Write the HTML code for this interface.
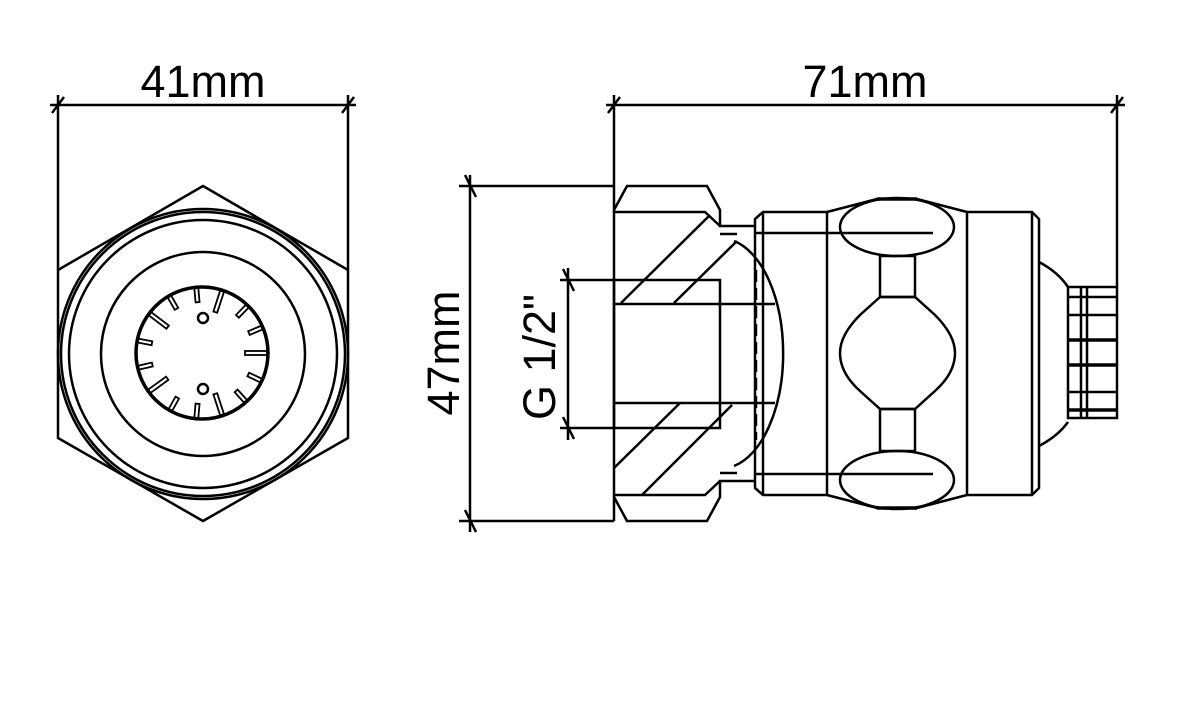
<!DOCTYPE html>
<html><head><meta charset="utf-8"><style>
html,body{margin:0;padding:0;background:#fff}
svg{display:block}
text{font-family:"Liberation Sans",sans-serif;fill:#000}
</style></head><body>
<svg width="1181" height="708" viewBox="0 0 1181 708" xmlns="http://www.w3.org/2000/svg">
<g fill="none" stroke="#000" stroke-width="2.5">
<!-- LEFT VIEW -->
<line x1="58" y1="95" x2="58" y2="270"/>
<line x1="348" y1="95" x2="348" y2="270"/>
<line x1="50" y1="105" x2="356" y2="105"/>
<line x1="52" y1="113" x2="64" y2="97"/>
<line x1="342" y1="113" x2="354" y2="97"/>
<polygon points="203,186 348,270 348,438 203,521 58,438 58,270"/>
<circle cx="203" cy="354" r="145"/>
<circle cx="203" cy="354" r="142"/>
<circle cx="203" cy="354" r="134"/>
<circle cx="203" cy="354" r="102"/>
<circle cx="202" cy="353" r="66" stroke-width="3.5"/>
<circle cx="203" cy="318" r="5"/>
<circle cx="203" cy="389" r="5"/>
<g stroke-width="1.8">
<rect x="253" y="351" width="14" height="4" transform="rotate(-95 202 353)"/>
<rect x="245" y="351" width="22" height="4" transform="rotate(-72 202 353)"/>
<rect x="253" y="351" width="14" height="4" transform="rotate(-46 202 353)"/>
<rect x="253" y="351" width="14" height="4" transform="rotate(-23 202 353)"/>
<rect x="245" y="351" width="22" height="4" transform="rotate(0 202 353)"/>
<rect x="253" y="351" width="14" height="4" transform="rotate(25 202 353)"/>
<rect x="253" y="351" width="14" height="4" transform="rotate(48 202 353)"/>
<rect x="245" y="351" width="22" height="4" transform="rotate(72 202 353)"/>
<rect x="253" y="351" width="14" height="4" transform="rotate(95 202 353)"/>
<rect x="253" y="351" width="14" height="4" transform="rotate(119 202 353)"/>
<rect x="245" y="351" width="22" height="4" transform="rotate(144 202 353)"/>
<rect x="253" y="351" width="14" height="4" transform="rotate(167 202 353)"/>
<rect x="253" y="351" width="14" height="4" transform="rotate(-169 202 353)"/>
<rect x="245" y="351" width="22" height="4" transform="rotate(-143 202 353)"/>
<rect x="253" y="351" width="14" height="4" transform="rotate(-120 202 353)"/>
</g>

<!-- RIGHT VIEW dims -->
<line x1="614" y1="95" x2="614" y2="521"/>
<line x1="1117" y1="95" x2="1117" y2="287"/>
<line x1="606" y1="105" x2="1125" y2="105"/>
<line x1="608" y1="113" x2="620" y2="97"/>
<line x1="1111" y1="113" x2="1123" y2="97"/>
<line x1="459" y1="186" x2="614" y2="186"/>
<line x1="459" y1="521" x2="614" y2="521"/>
<line x1="470" y1="175" x2="470" y2="532"/>
<line x1="465" y1="175" x2="476" y2="197"/>
<line x1="465" y1="510" x2="476" y2="532"/>
<line x1="560" y1="280" x2="614" y2="280"/>
<line x1="560" y1="428" x2="614" y2="428"/>
<line x1="568" y1="268" x2="568" y2="440"/>
<line x1="563" y1="269" x2="574" y2="291"/>
<line x1="563" y1="417" x2="574" y2="439"/>

<!-- nut -->
<path d="M614,210 L627,186 L707,186 L720,210 L720,226 L755,226"/>
<path d="M614,497 L627,521 L707,521 L720,497 L720,481 L755,481"/>
<path d="M614,212 L705,212 L720,226"/>
<path d="M614,495 L705,495 L720,481"/>
<line x1="720" y1="234" x2="737" y2="234"/>
<line x1="720" y1="473" x2="737" y2="473"/>
<rect x="614" y="280" width="106" height="148"/>
<line x1="614" y1="304" x2="775" y2="304"/>
<line x1="614" y1="403" x2="775" y2="403"/>
<line x1="621" y1="303" x2="710" y2="215"/>
<line x1="674" y1="303" x2="737" y2="241"/>
<line x1="614" y1="468" x2="680" y2="403"/>
<line x1="642" y1="495" x2="732" y2="405"/>
<path d="M734,241 A62,115 0 0 1 734,466"/>
<line x1="756" y1="270" x2="756" y2="440" stroke-dasharray="12,6"/>

<!-- body -->
<path d="M755,219 L763,212 L827,212 L827,495 L763,495 L755,488 Z"/>
<line x1="763" y1="212" x2="763" y2="495"/>
<line x1="755" y1="233" x2="933" y2="233"/>
<line x1="755" y1="474" x2="933" y2="474"/>
<path d="M827,212 L877,199 L917,199 L967,212"/>
<path d="M827,495 L877,508 L917,508 L967,495"/>
<line x1="877" y1="199" x2="917" y2="199" stroke-width="3.5"/>
<line x1="877" y1="508" x2="917" y2="508" stroke-width="3.5"/>
<ellipse cx="897" cy="227" rx="57" ry="29"/>
<ellipse cx="897" cy="480" rx="57" ry="29"/>
<rect x="880" y="256" width="35" height="41"/>
<rect x="880" y="409" width="35" height="42"/>
<path d="M880,297 L860,315 Q840,335 840,353 Q840,373 860,391 L880,409 L915,409 L935,391 Q955,373 955,353 Q955,335 935,315 L915,297 Z"/>
<path d="M967,212 L1032,212 L1039,219 L1039,488 L1032,495 L967,495 Z"/>
<line x1="1032" y1="212" x2="1032" y2="495"/>
<path d="M1039,262 Q1058,272 1068,287 M1039,446 Q1058,436 1068,422"/>
<rect x="1068" y="287" width="49" height="131"/>
<line x1="1081" y1="287" x2="1081" y2="418"/>
<line x1="1087" y1="287" x2="1087" y2="418"/>
<line x1="1068" y1="297" x2="1117" y2="297"/>
<line x1="1068" y1="315" x2="1117" y2="315"/>
<line x1="1068" y1="340" x2="1117" y2="340" stroke-width="3.5"/>
<line x1="1068" y1="365" x2="1117" y2="365" stroke-width="3.5"/>
<line x1="1068" y1="392" x2="1117" y2="392"/>
<line x1="1068" y1="410" x2="1117" y2="410" stroke-width="3.5"/>
</g>
<text x="203" y="97" font-size="45" text-anchor="middle">41mm</text>
<text x="865" y="97" font-size="45" text-anchor="middle">71mm</text>
<text transform="translate(459,353) rotate(-90)" font-size="45" text-anchor="middle">47mm</text>
<text transform="translate(555,357) rotate(-90)" font-size="45" text-anchor="middle">G 1/2"</text>
</svg>
</body></html>
